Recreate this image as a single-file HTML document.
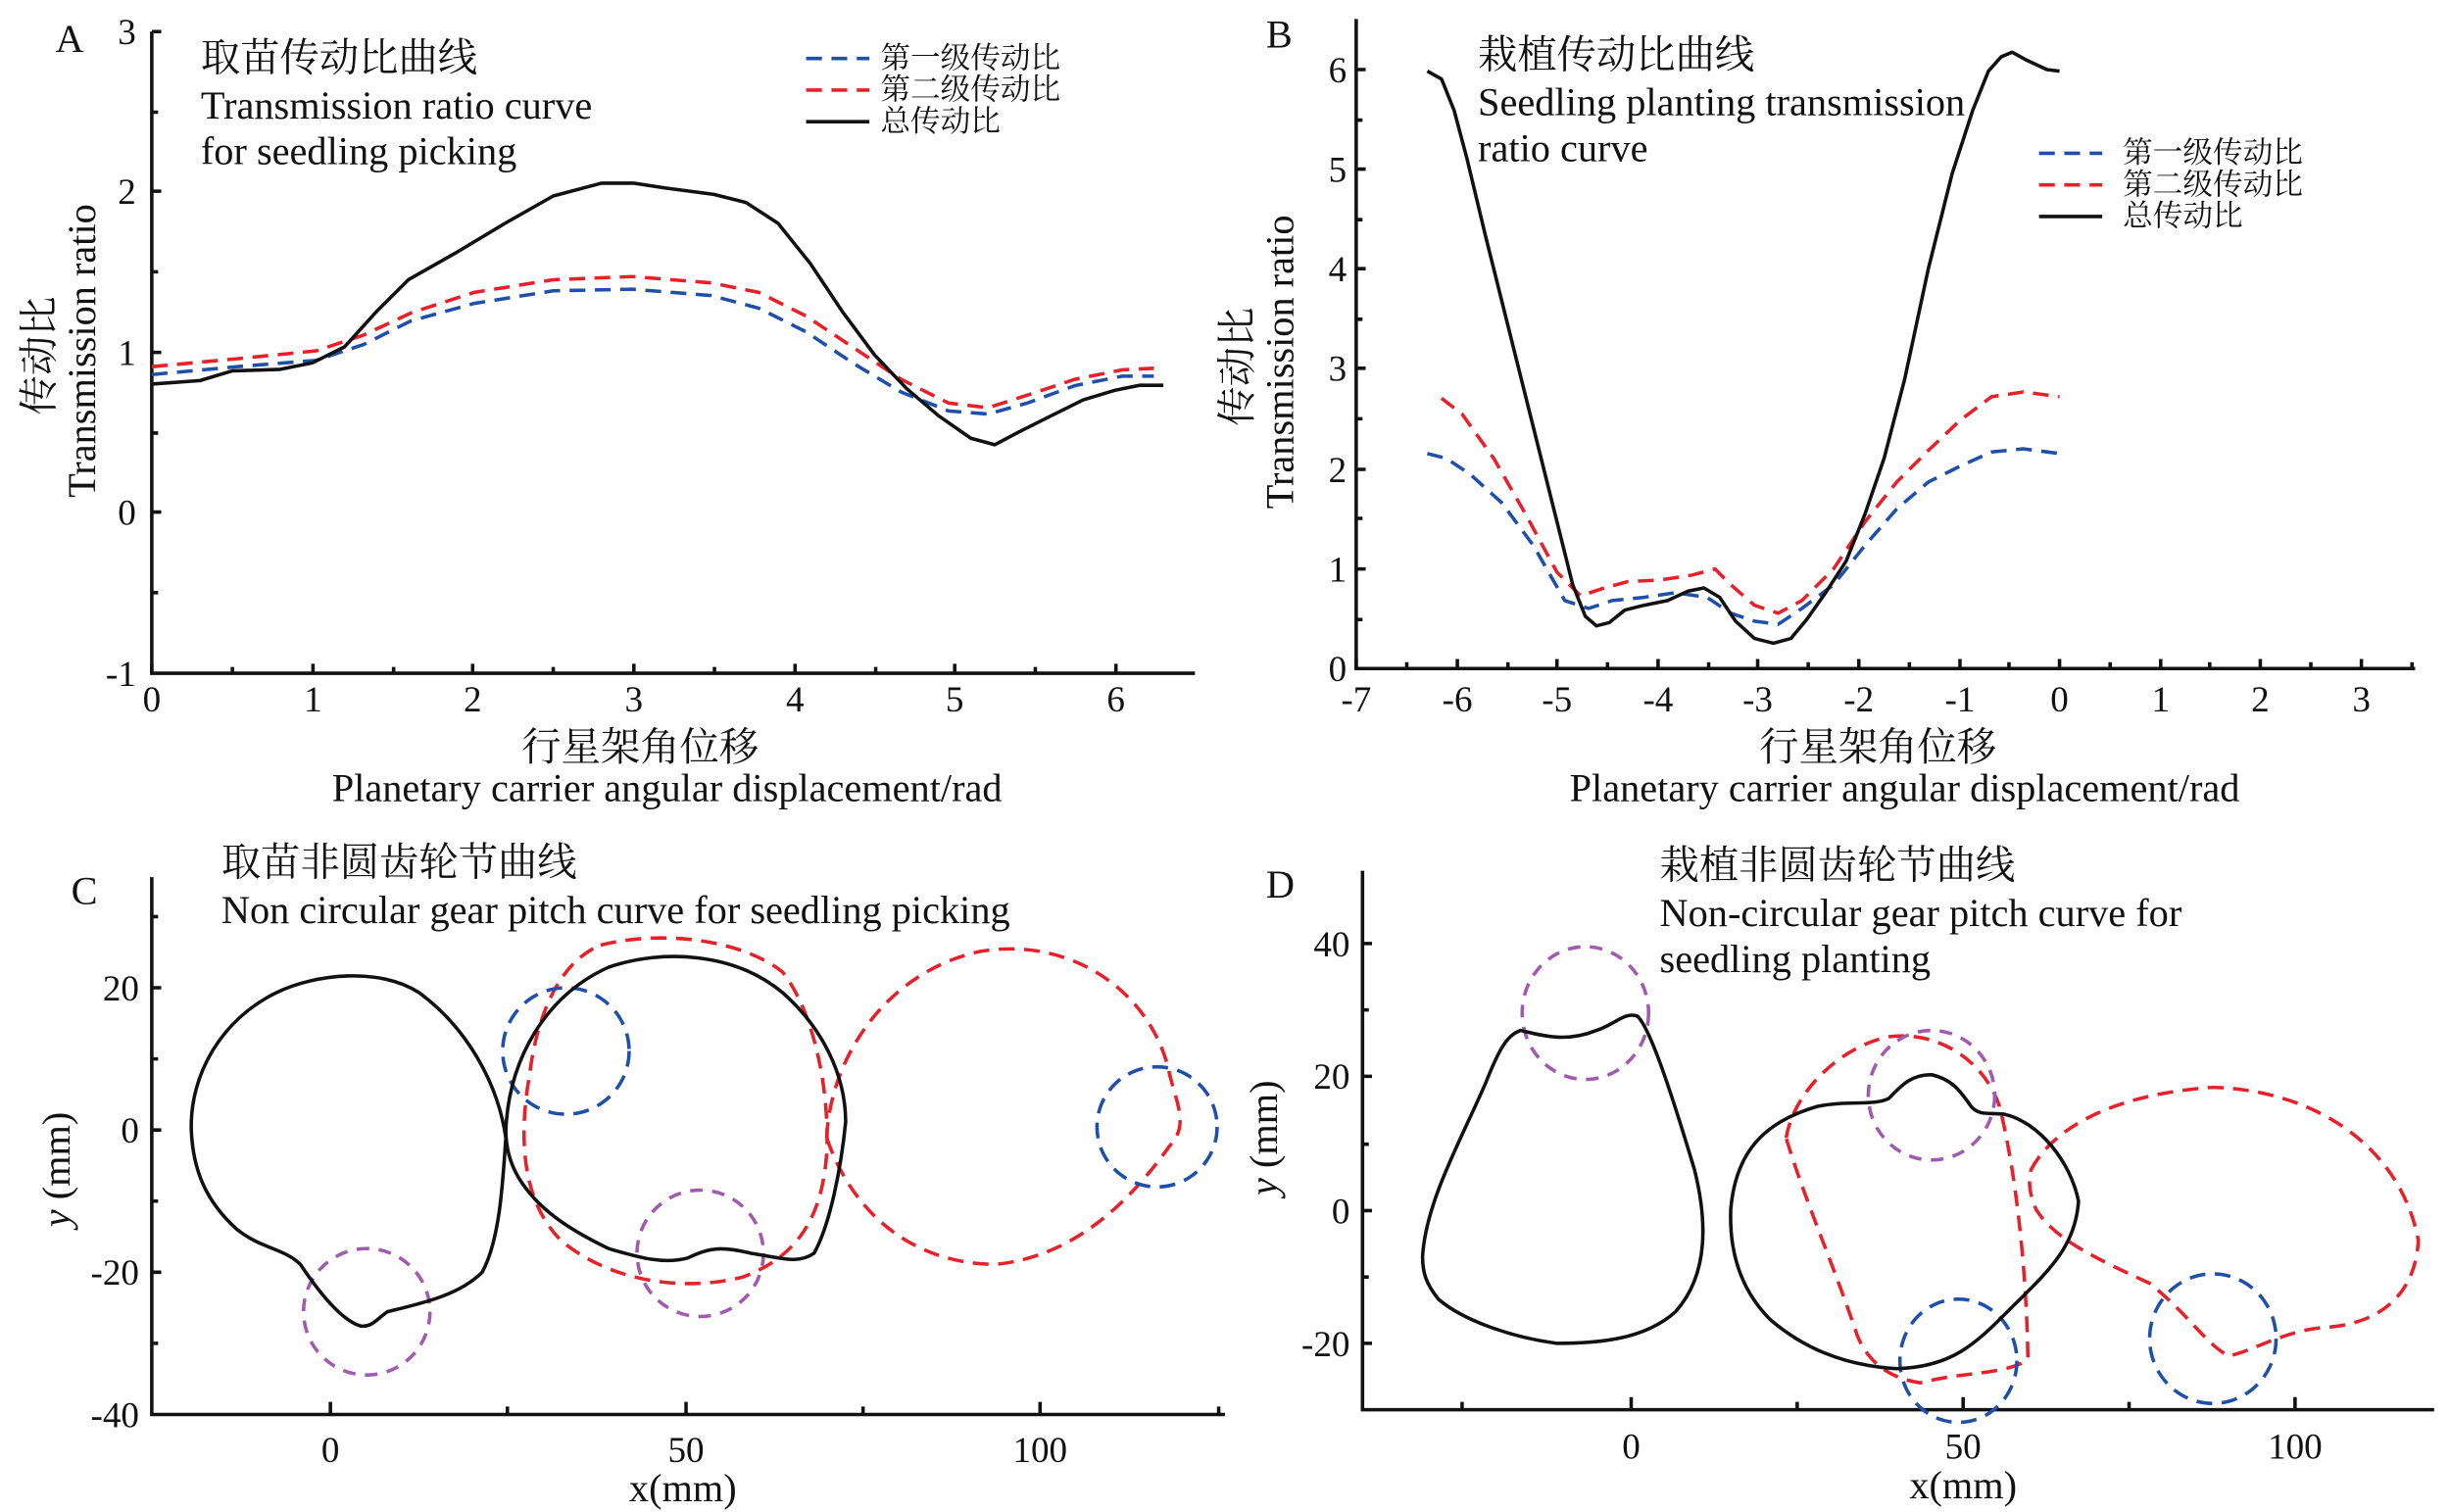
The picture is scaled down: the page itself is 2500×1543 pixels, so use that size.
<!DOCTYPE html>
<html><head><meta charset="utf-8"><style>
html,body{margin:0;padding:0;background:#fff;}
svg{display:block;}
text{font-family:"Liberation Serif","Noto Serif CJK SC",serif;fill:#111;}
.t{font-family:"Liberation Sans Narrow","Liberation Sans","Noto Sans CJK SC",sans-serif;font-size:23px;}
.cn{font-family:"Liberation Serif","Noto Serif CJK SC",serif;font-size:25px;}
.en{font-size:25px;}
.ax{stroke:#111;stroke-width:2.2;fill:none;}
.bk{stroke:#111;stroke-width:2.2;fill:none;stroke-linejoin:round;}
.bl{stroke:#1f4fa8;stroke-width:2.2;fill:none;stroke-dasharray:10,6;}
.rd{stroke:#e8202a;stroke-width:2.2;fill:none;stroke-dasharray:10,6;}
.pu{stroke:#a05aae;stroke-width:2.2;fill:none;stroke-dasharray:8,6;}
</style></head><body>
<svg width="2500" height="1543" viewBox="0 0 1550 956.7" xmlns="http://www.w3.org/2000/svg">
<!-- Panel A -->
<text x="35" y="33" class="en">A</text>
<path class="ax" d="M96,20 V426 H756"/>
<g class="ax">
<path d="M96,20h6M96,71h4M96,121h6M96,172h4M96,223h6M96,274h4M96,324h6M96,375h4"/>
<path d="M96,426v-6M147,426v-4M198,426v-6M249,426v-4M299,426v-6M350,426v-4M401,426v-6M452,426v-4M503,426v-6M554,426v-4M604,426v-6M655,426v-4M706,426v-6"/>
</g>
<g class="t" text-anchor="end"><text x="86" y="28">3</text><text x="86" y="129">2</text><text x="86" y="231">1</text><text x="86" y="332">0</text><text x="86" y="434">-1</text></g>
<g class="t" text-anchor="middle"><text x="96" y="450">0</text><text x="198" y="450">1</text><text x="299" y="450">2</text><text x="401" y="450">3</text><text x="503" y="450">4</text><text x="604" y="450">5</text><text x="706" y="450">6</text></g>
<text x="405" y="481" text-anchor="middle" class="cn">行星架角位移</text>
<text x="422" y="507" text-anchor="middle" class="en">Planetary carrier angular displacement/rad</text>
<text transform="translate(33,225) rotate(-90)" text-anchor="middle" class="cn">传动比</text>
<text transform="translate(60,222) rotate(-90)" text-anchor="middle" class="en">Transmission ratio</text>
<text x="127" y="45" class="cn">取苗传动比曲线</text>
<text x="127" y="75" class="en">Transmission ratio curve</text>
<text x="127" y="104" class="en">for seedling picking</text>
<path class="bl" d="M510,37h40"/><path class="rd" d="M510,57h40"/><path class="bk" d="M510,77h40" stroke-width="3"/>
<g class="cn" style="font-size:19px"><text x="557" y="43">第一级传动比</text><text x="557" y="63">第二级传动比</text><text x="557" y="83">总传动比</text></g>
<polyline class="rd" points="96,232 150,227 200,222 230,212 260,198 300,185 350,177 400,175 450,179 480,185 510,200 540,220 570,240 600,255 625,258 650,250 680,240 710,234 730,233"/>
<polyline class="bl" points="96,237 150,232 200,228 230,218 260,203 300,192 350,184 400,183 450,187 480,195 510,210 540,230 570,248 600,260 625,262 650,255 680,244 710,238 730,238"/>
<polyline class="bk" points="96,243 126.5,240.8 146.8,234.7 177.3,233.7 197.6,229.6 217.9,219.5 238.2,197.1 258.6,176.8 289,159.6 319.5,141.3 350,124 380.5,115.9 400.8,115.9 421,119 451.6,123 471.9,128.1 492.2,141.3 512.6,166.7 532.9,197.1 553.2,224.5 573.5,245.8 593.8,263.1 614.2,277.3 629.4,281.4 644.6,273.3 665,263.1 685.3,253 705.6,246.9 720.8,243.8 736,243.8"/>

<!-- Panel B -->
<text x="801" y="30" class="en">B</text>
<path class="ax" d="M858,12 V423 H1528"/>
<g class="ax">
<path d="M858,44h6M858,76h4M858,107h6M858,139h4M858,170h6M858,202h4M858,233h6M858,265h4M858,297h6M858,328h4M858,360h6M858,392h4"/>
<path d="M858,423v-6M890,423v-4M922,423v-6M954,423v-4M985,423v-6M1017,423v-4M1049,423v-6M1081,423v-4M1112,423v-6M1144,423v-4M1176,423v-6M1208,423v-4M1240,423v-6M1271,423v-4M1303,423v-6M1335,423v-4M1367,423v-6M1398,423v-4M1430,423v-6M1462,423v-4M1494,423v-6M1526,423v-4"/>
</g>
<g class="t" text-anchor="end"><text x="852" y="52">6</text><text x="852" y="115">5</text><text x="852" y="178">4</text><text x="852" y="241">3</text><text x="852" y="305">2</text><text x="852" y="368">1</text><text x="852" y="431">0</text></g>
<g class="t" text-anchor="middle"><text x="858" y="450">-7</text><text x="922" y="450">-6</text><text x="985" y="450">-5</text><text x="1049" y="450">-4</text><text x="1112" y="450">-3</text><text x="1176" y="450">-2</text><text x="1240" y="450">-1</text><text x="1303" y="450">0</text><text x="1367" y="450">1</text><text x="1430" y="450">2</text><text x="1494" y="450">3</text></g>
<text x="1188" y="481" text-anchor="middle" class="cn">行星架角位移</text>
<text x="1205" y="507" text-anchor="middle" class="en">Planetary carrier angular displacement/rad</text>
<text transform="translate(791,232) rotate(-90)" text-anchor="middle" class="cn">传动比</text>
<text transform="translate(818,229) rotate(-90)" text-anchor="middle" class="en">Transmission ratio</text>
<text x="935" y="43" class="cn">栽植传动比曲线</text>
<text x="935" y="73" class="en">Seedling planting transmission</text>
<text x="935" y="102" class="en">ratio curve</text>
<path class="bl" d="M1290,97h40"/><path class="rd" d="M1290,117h40"/><path class="bk" d="M1290,137h40" stroke-width="3"/>
<g class="cn" style="font-size:19px"><text x="1343" y="103">第一级传动比</text><text x="1343" y="123">第二级传动比</text><text x="1343" y="143">总传动比</text></g>
<polyline class="rd" points="912,252 925,262 945,290 965,325 985,362 1000,377 1015,372 1030,368 1050,367 1070,364 1085,360 1095,370 1110,383 1125,388 1140,380 1160,360 1180,330 1200,305 1220,285 1240,266 1260,251 1280,248 1303,251"/>
<polyline class="bl" points="903,287 915,290 930,300 950,318 970,345 990,380 1005,385 1020,380 1040,378 1060,375 1080,378 1095,388 1110,393 1125,395 1140,385 1160,370 1180,345 1200,322 1220,305 1240,295 1260,286 1280,284 1303,287"/>
<polyline class="bk" points="903,45 912,50 920,70 928,100 940,150 955,210 970,270 985,330 995,370 1003,390 1010,396 1018,394 1028,386 1040,383 1055,380 1068,374 1078,372 1088,378 1098,393 1110,404 1122,407 1133,404 1143,392 1155,375 1168,355 1180,325 1192,290 1205,240 1220,170 1235,110 1248,70 1258,45 1266,36 1273,33 1282,38 1295,44 1303,45"/>

<!-- Panel C -->
<text x="45" y="572" class="en">C</text>
<path class="ax" d="M96,555 V895 H775"/>
<g class="ax">
<path d="M96,580h4M96,625h6M96,670h4M96,715h6M96,760h4M96,805h6M96,850h4"/>
<path d="M209,895v-8M321,895v-5M434,895v-8M546,895v-5M658,895v-8M771,895v-5"/>
</g>
<g class="t" text-anchor="end"><text x="88" y="633">20</text><text x="88" y="723">0</text><text x="88" y="813">-20</text><text x="88" y="903">-40</text></g>
<g class="t" text-anchor="middle"><text x="209" y="925">0</text><text x="434" y="925">50</text><text x="658" y="925">100</text></g>
<text x="432" y="950" text-anchor="middle" class="en">x(mm)</text>
<text transform="translate(44,740) rotate(-90)" text-anchor="middle" class="en"><tspan font-style="italic">y</tspan> (mm)</text>
<text x="140" y="554" class="cn">取苗非圆齿轮节曲线</text>
<text x="140" y="584" class="en">Non circular gear pitch curve for seedling picking</text>
<path class="rd" d="M380,598 C420,588 470,595 495,615 C515,640 525,690 523,730 C520,770 505,795 470,808 C430,818 385,810 355,785 C330,760 328,720 335,680 C340,640 355,608 380,598 Z"/>
<path class="rd" d="M523,720 C525,670 560,615 620,602 C680,592 730,630 740,680 C745,700 752,712 740,725 C715,760 680,795 630,800 C580,800 540,770 523,720 Z"/>
<circle class="bl" cx="358" cy="665" r="40"/>
<circle class="bl" cx="732" cy="713" r="38"/>
<circle class="pu" cx="232" cy="830" r="40"/>
<circle class="pu" cx="443" cy="793" r="40"/>
<path class="bk" d="M121,715 C120,680 140,645 175,628 C200,616 240,612 265,628 C295,650 315,685 320,720 C318,750 316,785 305,805 C290,820 265,825 245,830 C238,835 235,840 228,839 C215,835 200,815 190,800 C180,790 165,790 150,778 C130,760 122,740 121,715 Z"/>
<path class="bk" d="M320,715 C322,670 345,630 385,612 C420,600 465,603 495,628 C520,650 535,680 535,710 C532,740 525,775 515,793 C505,800 495,796 475,793 C455,788 448,790 435,796 C420,800 405,796 385,790 C360,778 340,765 328,745 C322,735 320,725 320,715 Z"/>

<!-- Panel D -->
<text x="801" y="568" class="en">D</text>
<path class="ax" d="M862,551 V892 H1540"/>
<g class="ax">
<path d="M862,597h6M862,639h4M862,681h6M862,724h4M862,766h6M862,808h4M862,850h6"/>
<path d="M925,892v-5M1032,892v-8M1137,892v-5M1242,892v-8M1347,892v-5M1452,892v-8"/>
</g>
<g class="t" text-anchor="end"><text x="854" y="605">40</text><text x="854" y="689">20</text><text x="854" y="774">0</text><text x="854" y="858">-20</text></g>
<g class="t" text-anchor="middle"><text x="1032" y="923">0</text><text x="1242" y="923">50</text><text x="1452" y="923">100</text></g>
<text x="1242" y="948" text-anchor="middle" class="en">x(mm)</text>
<text transform="translate(808,720) rotate(-90)" text-anchor="middle" class="en"><tspan font-style="italic">y</tspan> (mm)</text>
<text x="1050" y="556" class="cn">栽植非圆齿轮节曲线</text>
<text x="1050" y="586" class="en">Non-circular gear pitch curve for</text>
<text x="1050" y="615" class="en">seedling planting</text>
<path class="rd" d="M1130,720 C1135,690 1165,662 1195,656 C1225,652 1255,670 1265,700 C1275,740 1282,800 1283,860 C1270,870 1240,868 1215,875 C1195,872 1182,862 1175,845 C1160,800 1142,760 1130,720 Z"/>
<path class="rd" d="M1285,740 C1300,712 1340,692 1400,688 C1470,690 1520,730 1530,785 C1528,820 1505,838 1470,840 C1445,842 1425,855 1410,858 C1395,850 1385,832 1360,812 C1330,798 1300,785 1288,765 C1284,755 1283,748 1285,740 Z"/>
<ellipse class="pu" cx="1003" cy="641" rx="40" ry="42"/>
<ellipse class="pu" cx="1222" cy="693" rx="40" ry="41"/>
<ellipse class="bl" cx="1239" cy="861" rx="37" ry="39"/>
<ellipse class="bl" cx="1400" cy="847" rx="40" ry="41"/>
<path class="bk" d="M900,795 C902,760 925,720 940,685 C948,665 953,655 962,652 C975,655 990,660 1010,652 C1022,648 1028,640 1036,643 C1045,652 1060,700 1072,740 C1082,780 1078,810 1060,830 C1040,848 1010,850 985,850 C955,846 925,835 910,822 C902,812 900,805 900,795 Z"/>
<path class="bk" d="M1095,765 C1098,730 1115,710 1150,700 C1170,696 1185,700 1195,695 C1202,688 1208,680 1222,680 C1235,683 1240,690 1247,700 C1252,706 1258,704 1268,705 C1290,710 1310,735 1315,760 C1313,790 1295,805 1270,830 C1250,850 1235,865 1200,866 C1165,864 1140,852 1120,835 C1100,815 1094,790 1095,765 Z"/>
</svg>
</body></html>
